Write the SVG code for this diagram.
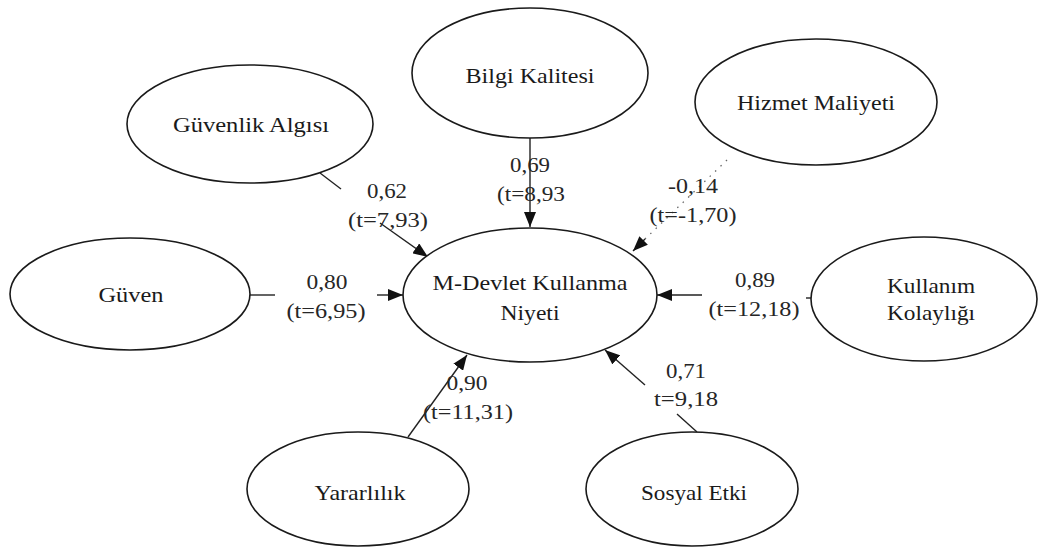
<svg xmlns="http://www.w3.org/2000/svg" width="1040" height="554" viewBox="0 0 1040 554">
<style>
.node ellipse{fill:#fff;stroke:#1a1a1a;stroke-width:1.6}
.nt{font-family:"Liberation Serif","Times New Roman",serif;font-size:21px;fill:#1a1a1a;text-anchor:middle}
.el{font-family:"Liberation Serif","Times New Roman",serif;font-size:20px;fill:#262626;text-anchor:middle}
.c{stroke:#222;stroke-width:1.4;fill:none}
.dot{stroke:#666;stroke-width:1.3;fill:none;stroke-dasharray:1.5 6}
</style>
<defs>
<marker id="ah" markerUnits="userSpaceOnUse" markerWidth="16" markerHeight="12" refX="15" refY="6" orient="auto">
<path d="M0,0 L15,6 L0,12 Z" fill="#111"/>
</marker>
</defs>
<rect width="1040" height="554" fill="#fff"/>
<g id="connectors">
<path class="c" d="M320,173 L341,189"/>
<path class="c" d="M380,223 L428,257" marker-end="url(#ah)"/>
<path class="c" d="M530,138 L530,227" marker-end="url(#ah)"/>
<path class="dot" d="M727,160 L645,239"/>
<path class="c" d="M645,239 L633,251" marker-end="url(#ah)"/>
<path class="c" d="M250,295 L275,295"/>
<path class="c" d="M377,295 L403,295" marker-end="url(#ah)"/>
<path class="c" d="M702,295 L657,295" marker-end="url(#ah)"/>
<path class="c" d="M806,298 L811,298"/>
<path class="c" d="M408,437 L467,355" marker-end="url(#ah)"/>
<path class="c" d="M697,432 L677,414"/>
<path class="c" d="M645,385 L605,350" marker-end="url(#ah)"/>
</g>
<g id="labels">
<text class="el" x="387" y="198" textLength="40" lengthAdjust="spacingAndGlyphs">0,62</text>
<text class="el" x="388" y="227" textLength="80" lengthAdjust="spacingAndGlyphs">(t=7,93)</text>
<text class="el" x="530" y="172" textLength="40" lengthAdjust="spacingAndGlyphs">0,69</text>
<text class="el" x="531" y="201" textLength="68" lengthAdjust="spacingAndGlyphs">(t=8,93</text>
<text class="el" x="693" y="193" textLength="50" lengthAdjust="spacingAndGlyphs">-0,14</text>
<text class="el" x="693" y="222" textLength="87" lengthAdjust="spacingAndGlyphs">(t=-1,70)</text>
<text class="el" x="327" y="289" textLength="41" lengthAdjust="spacingAndGlyphs">0,80</text>
<text class="el" x="326" y="318" textLength="79" lengthAdjust="spacingAndGlyphs">(t=6,95)</text>
<text class="el" x="755" y="287" textLength="40" lengthAdjust="spacingAndGlyphs">0,89</text>
<text class="el" x="754" y="316" textLength="91" lengthAdjust="spacingAndGlyphs">(t=12,18)</text>
<text class="el" x="467" y="390" textLength="41" lengthAdjust="spacingAndGlyphs">0,90</text>
<text class="el" x="468" y="419" textLength="90" lengthAdjust="spacingAndGlyphs">(t=11,31)</text>
<text class="el" x="686" y="378" textLength="40" lengthAdjust="spacingAndGlyphs">0,71</text>
<text class="el" x="686" y="406" textLength="64" lengthAdjust="spacingAndGlyphs">t=9,18</text>
</g>
<g id="n-guvenlik" class="node">
<ellipse cx="250" cy="124" rx="123" ry="59"/>
<text class="nt" x="251" y="132" textLength="156" lengthAdjust="spacingAndGlyphs">Güvenlik Algısı</text>
</g>
<g id="n-bilgi" class="node">
<ellipse cx="530" cy="73" rx="118" ry="65"/>
<text class="nt" x="530" y="83" textLength="129" lengthAdjust="spacingAndGlyphs">Bilgi Kalitesi</text>
</g>
<g id="n-hizmet" class="node">
<ellipse cx="816" cy="102" rx="121" ry="63"/>
<text class="nt" x="816" y="110" textLength="158" lengthAdjust="spacingAndGlyphs">Hizmet Maliyeti</text>
</g>
<g id="n-guven" class="node">
<ellipse cx="130" cy="294" rx="120" ry="56"/>
<text class="nt" x="131" y="302" textLength="65" lengthAdjust="spacingAndGlyphs">Güven</text>
</g>
<g id="n-center" class="node">
<ellipse cx="530" cy="295" rx="127" ry="67"/>
<text class="nt" x="530" y="290" textLength="195" lengthAdjust="spacingAndGlyphs">M-Devlet Kullanma</text>
<text class="nt" x="530" y="320" textLength="59" lengthAdjust="spacingAndGlyphs">Niyeti</text>
</g>
<g id="n-kullanim" class="node">
<ellipse cx="924" cy="299" rx="113" ry="62"/>
<text class="nt" x="931" y="293" textLength="88" lengthAdjust="spacingAndGlyphs">Kullanım</text>
<text class="nt" x="931" y="320" textLength="88" lengthAdjust="spacingAndGlyphs">Kolaylığı</text>
</g>
<g id="n-yararlilik" class="node">
<ellipse cx="358" cy="489" rx="111" ry="57"/>
<text class="nt" x="360" y="500" textLength="91" lengthAdjust="spacingAndGlyphs">Yararlılık</text>
</g>
<g id="n-sosyal" class="node">
<ellipse cx="692" cy="489" rx="106" ry="57"/>
<text class="nt" x="694" y="500" textLength="106" lengthAdjust="spacingAndGlyphs">Sosyal Etki</text>
</g>
</svg>
